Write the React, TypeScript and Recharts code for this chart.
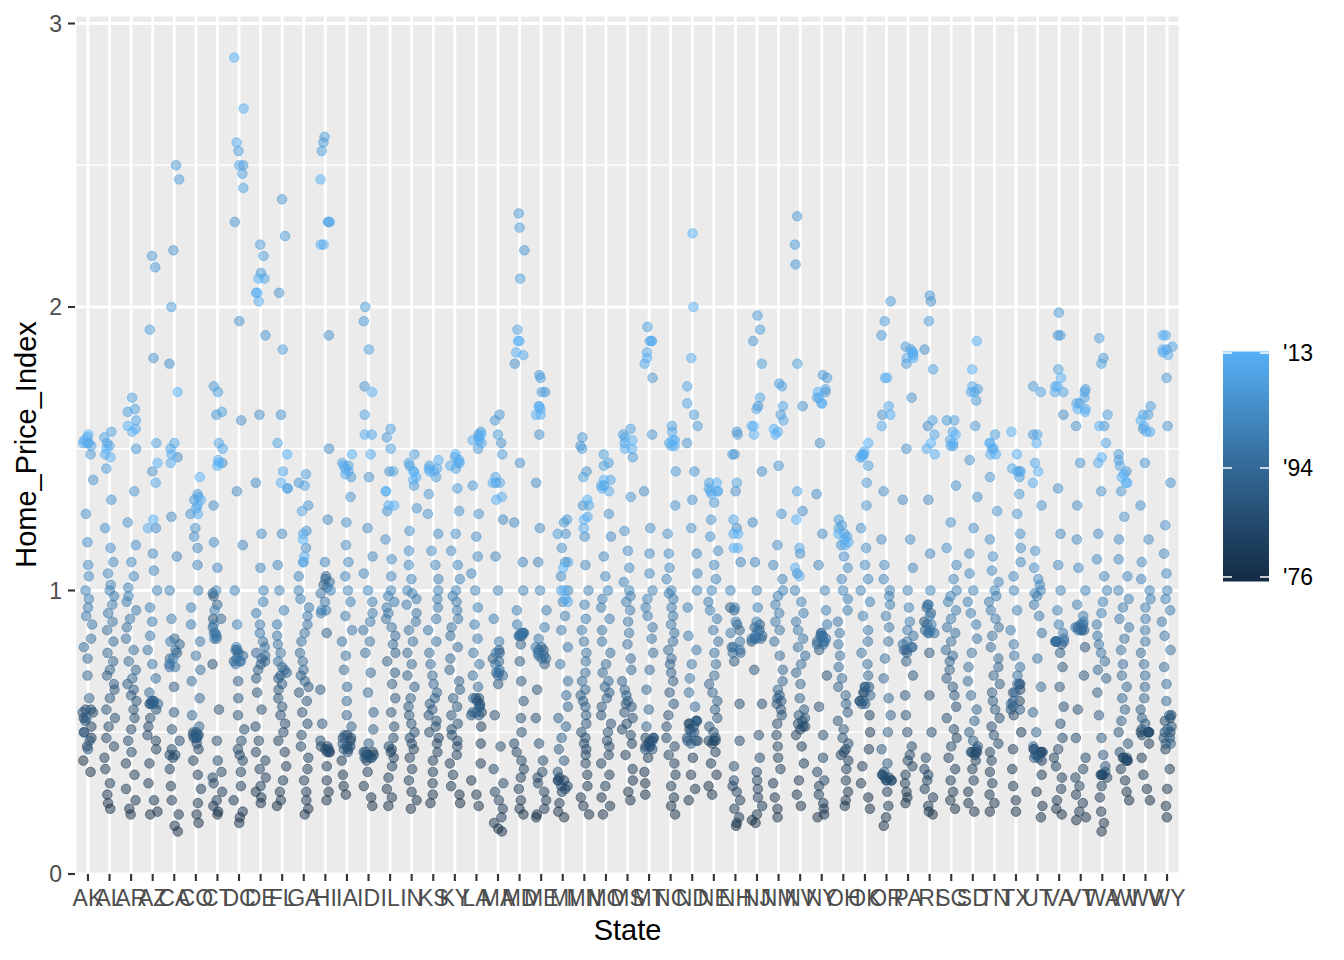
import React from 'react';
import { ScatterChart, Scatter, XAxis, YAxis, CartesianGrid } from 'recharts';

// Home price index per state, one value per year 1975..2013
const FIRST_YEAR = 1975;

const STATES = ['AK', 'AL', 'AR', 'AZ', 'CA', 'CO', 'CT', 'DC', 'DE', 'FL', 'GA', 'HI', 'IA', 'ID', 'IL', 'IN', 'KS', 'KY', 'LA', 'MA', 'MD', 'ME', 'MI', 'MN', 'MO', 'MS', 'MT', 'NC', 'ND', 'NE', 'NH', 'NJ', 'NM', 'NV', 'NY', 'OH', 'OK', 'OR', 'PA', 'RI', 'SC', 'SD', 'TN', 'TX', 'UT', 'VA', 'VT', 'WA', 'WI', 'WV', 'WY'];

const hpiAK = [0.36, 0.40, 0.45, 0.48, 0.50, 0.52, 0.55, 0.57, 0.58, 0.58, 0.57, 0.54, 0.47, 0.44, 0.50, 0.55, 0.62, 0.70, 0.76, 0.80, 0.83, 0.88, 0.91, 0.94, 0.97, 1.00, 1.05, 1.09, 1.17, 1.27, 1.39, 1.48, 1.52, 1.54, 1.52, 1.51, 1.52, 1.53, 1.55];
const hpiAL = [0.23, 0.25, 0.28, 0.32, 0.37, 0.41, 0.45, 0.48, 0.52, 0.55, 0.58, 0.62, 0.65, 0.67, 0.70, 0.72, 0.75, 0.78, 0.82, 0.86, 0.89, 0.92, 0.95, 0.98, 1.00, 1.02, 1.06, 1.10, 1.15, 1.22, 1.32, 1.43, 1.52, 1.56, 1.54, 1.51, 1.48, 1.47, 1.50];
const hpiAR = [0.21, 0.23, 0.26, 0.30, 0.35, 0.39, 0.43, 0.47, 0.51, 0.55, 0.58, 0.61, 0.63, 0.65, 0.67, 0.69, 0.72, 0.75, 0.79, 0.83, 0.87, 0.90, 0.93, 0.96, 0.98, 1.01, 1.05, 1.10, 1.16, 1.24, 1.35, 1.50, 1.63, 1.68, 1.64, 1.60, 1.57, 1.56, 1.58];
const hpiAZ = [0.21, 0.22, 0.26, 0.32, 0.39, 0.44, 0.47, 0.49, 0.52, 0.55, 0.58, 0.60, 0.61, 0.61, 0.60, 0.60, 0.60, 0.61, 0.64, 0.69, 0.74, 0.79, 0.84, 0.89, 0.94, 1.00, 1.07, 1.13, 1.22, 1.42, 1.82, 2.14, 2.18, 1.92, 1.52, 1.38, 1.22, 1.25, 1.45];
const hpiCA = [0.15, 0.17, 0.21, 0.26, 0.31, 0.37, 0.41, 0.42, 0.42, 0.44, 0.47, 0.51, 0.57, 0.66, 0.78, 0.83, 0.81, 0.79, 0.76, 0.74, 0.73, 0.73, 0.76, 0.82, 0.90, 1.00, 1.12, 1.26, 1.47, 1.80, 2.20, 2.50, 2.45, 2.00, 1.52, 1.50, 1.45, 1.48, 1.70];
const hpiCO = [0.18, 0.21, 0.25, 0.30, 0.35, 0.40, 0.44, 0.46, 0.48, 0.49, 0.50, 0.50, 0.49, 0.48, 0.48, 0.49, 0.52, 0.56, 0.62, 0.68, 0.72, 0.77, 0.82, 0.88, 0.94, 1.00, 1.09, 1.15, 1.19, 1.22, 1.27, 1.32, 1.34, 1.33, 1.30, 1.29, 1.27, 1.32, 1.40];
const hpiCT = [0.21, 0.22, 0.24, 0.26, 0.29, 0.32, 0.34, 0.36, 0.40, 0.47, 0.58, 0.74, 0.90, 0.98, 0.99, 0.95, 0.90, 0.87, 0.85, 0.84, 0.83, 0.83, 0.85, 0.88, 0.93, 1.00, 1.08, 1.17, 1.30, 1.45, 1.62, 1.72, 1.70, 1.63, 1.52, 1.50, 1.46, 1.44, 1.45];
const hpiDC = [0.18, 0.20, 0.22, 0.26, 0.31, 0.36, 0.40, 0.42, 0.44, 0.47, 0.51, 0.56, 0.62, 0.68, 0.75, 0.79, 0.79, 0.78, 0.77, 0.76, 0.75, 0.74, 0.75, 0.80, 0.88, 1.00, 1.16, 1.35, 1.60, 1.95, 2.30, 2.50, 2.55, 2.47, 2.42, 2.50, 2.58, 2.70, 2.88];
const hpiDE = [0.25, 0.27, 0.29, 0.31, 0.34, 0.37, 0.40, 0.43, 0.47, 0.52, 0.58, 0.64, 0.69, 0.72, 0.74, 0.75, 0.76, 0.77, 0.78, 0.80, 0.82, 0.85, 0.88, 0.92, 0.96, 1.00, 1.08, 1.20, 1.38, 1.62, 1.90, 2.12, 2.22, 2.18, 2.10, 2.05, 2.02, 2.05, 2.10];
const hpiFL = [0.24, 0.26, 0.29, 0.33, 0.38, 0.43, 0.47, 0.50, 0.53, 0.56, 0.59, 0.62, 0.65, 0.67, 0.69, 0.70, 0.71, 0.72, 0.73, 0.75, 0.78, 0.81, 0.84, 0.88, 0.93, 1.00, 1.09, 1.20, 1.36, 1.62, 2.05, 2.38, 2.25, 1.85, 1.52, 1.42, 1.36, 1.38, 1.48];
const hpiGA = [0.21, 0.23, 0.26, 0.29, 0.33, 0.37, 0.41, 0.45, 0.49, 0.53, 0.57, 0.61, 0.64, 0.66, 0.68, 0.70, 0.72, 0.75, 0.78, 0.82, 0.85, 0.88, 0.91, 0.94, 0.97, 1.00, 1.05, 1.10, 1.15, 1.21, 1.30, 1.38, 1.41, 1.37, 1.28, 1.20, 1.12, 1.10, 1.18];
const hpiHI = [0.26, 0.29, 0.33, 0.38, 0.43, 0.45, 0.45, 0.44, 0.43, 0.43, 0.44, 0.47, 0.53, 0.65, 0.85, 1.02, 1.05, 1.04, 1.03, 1.01, 0.99, 0.96, 0.93, 0.92, 0.93, 1.00, 1.10, 1.25, 1.50, 1.90, 2.30, 2.58, 2.60, 2.55, 2.30, 2.22, 2.22, 2.30, 2.45];
const hpiIA = [0.28, 0.31, 0.35, 0.40, 0.45, 0.48, 0.49, 0.48, 0.47, 0.45, 0.44, 0.43, 0.44, 0.46, 0.49, 0.52, 0.56, 0.61, 0.66, 0.72, 0.77, 0.82, 0.86, 0.91, 0.96, 1.00, 1.05, 1.10, 1.16, 1.24, 1.33, 1.40, 1.44, 1.45, 1.43, 1.42, 1.41, 1.44, 1.48];
const hpiID = [0.24, 0.27, 0.31, 0.36, 0.40, 0.42, 0.43, 0.43, 0.42, 0.42, 0.41, 0.41, 0.41, 0.43, 0.46, 0.51, 0.57, 0.64, 0.71, 0.78, 0.82, 0.86, 0.89, 0.92, 0.96, 1.00, 1.06, 1.12, 1.22, 1.40, 1.72, 1.95, 2.00, 1.85, 1.62, 1.55, 1.48, 1.55, 1.70];
const hpiIL = [0.24, 0.27, 0.30, 0.34, 0.38, 0.41, 0.43, 0.44, 0.45, 0.48, 0.52, 0.57, 0.62, 0.67, 0.71, 0.75, 0.78, 0.81, 0.84, 0.87, 0.90, 0.92, 0.94, 0.96, 0.98, 1.00, 1.05, 1.11, 1.18, 1.28, 1.42, 1.54, 1.57, 1.50, 1.42, 1.35, 1.30, 1.30, 1.35];
const hpiIN = [0.23, 0.26, 0.29, 0.33, 0.37, 0.41, 0.44, 0.46, 0.48, 0.50, 0.53, 0.56, 0.59, 0.62, 0.66, 0.70, 0.74, 0.78, 0.82, 0.86, 0.89, 0.92, 0.95, 0.97, 0.99, 1.00, 1.04, 1.09, 1.14, 1.21, 1.29, 1.37, 1.44, 1.48, 1.45, 1.42, 1.40, 1.39, 1.42];
const hpiKS = [0.25, 0.28, 0.32, 0.36, 0.40, 0.43, 0.46, 0.48, 0.50, 0.52, 0.54, 0.56, 0.58, 0.60, 0.62, 0.64, 0.67, 0.70, 0.74, 0.78, 0.82, 0.86, 0.90, 0.94, 0.97, 1.00, 1.04, 1.09, 1.14, 1.20, 1.27, 1.34, 1.40, 1.44, 1.43, 1.42, 1.42, 1.43, 1.46];
const hpiKY = [0.25, 0.28, 0.31, 0.35, 0.39, 0.42, 0.45, 0.47, 0.49, 0.51, 0.53, 0.56, 0.59, 0.62, 0.65, 0.68, 0.72, 0.76, 0.80, 0.84, 0.87, 0.90, 0.93, 0.96, 0.98, 1.00, 1.04, 1.09, 1.14, 1.20, 1.28, 1.36, 1.43, 1.47, 1.46, 1.45, 1.44, 1.45, 1.48];
const hpiLA = [0.24, 0.28, 0.33, 0.39, 0.46, 0.52, 0.57, 0.60, 0.62, 0.62, 0.61, 0.59, 0.57, 0.56, 0.56, 0.57, 0.59, 0.62, 0.66, 0.70, 0.74, 0.78, 0.83, 0.88, 0.94, 1.00, 1.06, 1.12, 1.19, 1.27, 1.37, 1.50, 1.55, 1.56, 1.54, 1.53, 1.52, 1.53, 1.55];
const hpiMA = [0.15, 0.16, 0.18, 0.20, 0.23, 0.26, 0.29, 0.32, 0.37, 0.45, 0.56, 0.67, 0.76, 0.79, 0.78, 0.75, 0.71, 0.70, 0.70, 0.71, 0.72, 0.74, 0.78, 0.82, 0.90, 1.00, 1.12, 1.25, 1.38, 1.52, 1.62, 1.60, 1.55, 1.48, 1.40, 1.38, 1.33, 1.32, 1.38];
const hpiMD = [0.21, 0.23, 0.26, 0.30, 0.34, 0.37, 0.40, 0.43, 0.46, 0.50, 0.55, 0.61, 0.68, 0.75, 0.81, 0.84, 0.85, 0.85, 0.85, 0.84, 0.84, 0.84, 0.85, 0.88, 0.93, 1.00, 1.10, 1.24, 1.45, 1.80, 2.20, 2.33, 2.28, 2.10, 1.92, 1.88, 1.83, 1.84, 1.88];
const hpiME = [0.20, 0.21, 0.23, 0.26, 0.29, 0.32, 0.34, 0.36, 0.40, 0.46, 0.55, 0.65, 0.74, 0.79, 0.80, 0.79, 0.77, 0.76, 0.76, 0.77, 0.78, 0.80, 0.83, 0.87, 0.93, 1.00, 1.10, 1.22, 1.38, 1.55, 1.70, 1.76, 1.75, 1.70, 1.65, 1.64, 1.62, 1.62, 1.65];
const hpiMI = [0.20, 0.22, 0.25, 0.29, 0.33, 0.34, 0.33, 0.31, 0.30, 0.31, 0.33, 0.36, 0.40, 0.44, 0.48, 0.52, 0.55, 0.59, 0.63, 0.68, 0.74, 0.80, 0.86, 0.91, 0.96, 1.00, 1.05, 1.10, 1.15, 1.20, 1.24, 1.25, 1.20, 1.10, 1.00, 0.97, 0.96, 1.00, 1.08];
const hpiMN = [0.21, 0.24, 0.27, 0.31, 0.35, 0.39, 0.42, 0.44, 0.46, 0.48, 0.50, 0.53, 0.56, 0.59, 0.61, 0.63, 0.65, 0.68, 0.71, 0.75, 0.78, 0.82, 0.86, 0.90, 0.95, 1.00, 1.09, 1.19, 1.30, 1.42, 1.51, 1.54, 1.50, 1.40, 1.30, 1.26, 1.22, 1.25, 1.32];
const hpiMO = [0.21, 0.24, 0.27, 0.31, 0.35, 0.39, 0.42, 0.45, 0.47, 0.50, 0.53, 0.56, 0.59, 0.62, 0.64, 0.66, 0.68, 0.71, 0.74, 0.78, 0.82, 0.86, 0.90, 0.94, 0.97, 1.00, 1.05, 1.12, 1.19, 1.27, 1.37, 1.45, 1.48, 1.44, 1.39, 1.37, 1.35, 1.36, 1.39];
const hpiMS = [0.26, 0.29, 0.33, 0.37, 0.42, 0.46, 0.49, 0.51, 0.53, 0.55, 0.57, 0.59, 0.60, 0.61, 0.63, 0.65, 0.68, 0.72, 0.76, 0.81, 0.85, 0.89, 0.93, 0.96, 0.98, 1.00, 1.03, 1.08, 1.14, 1.21, 1.33, 1.47, 1.55, 1.57, 1.54, 1.52, 1.50, 1.50, 1.53];
const hpiMT = [0.28, 0.32, 0.36, 0.41, 0.45, 0.47, 0.48, 0.48, 0.47, 0.46, 0.45, 0.44, 0.44, 0.45, 0.48, 0.52, 0.58, 0.65, 0.72, 0.78, 0.83, 0.87, 0.91, 0.94, 0.97, 1.00, 1.06, 1.13, 1.22, 1.35, 1.55, 1.75, 1.88, 1.93, 1.88, 1.84, 1.80, 1.82, 1.88];
const hpiNC = [0.21, 0.24, 0.27, 0.31, 0.35, 0.39, 0.42, 0.45, 0.48, 0.52, 0.56, 0.60, 0.64, 0.68, 0.71, 0.74, 0.76, 0.79, 0.82, 0.85, 0.88, 0.91, 0.94, 0.97, 0.99, 1.00, 1.04, 1.08, 1.13, 1.20, 1.30, 1.42, 1.52, 1.58, 1.56, 1.53, 1.51, 1.51, 1.53];
const hpiND = [0.26, 0.30, 0.35, 0.41, 0.47, 0.51, 0.53, 0.54, 0.54, 0.53, 0.52, 0.50, 0.48, 0.47, 0.46, 0.47, 0.50, 0.54, 0.59, 0.64, 0.69, 0.74, 0.79, 0.84, 0.94, 1.00, 1.06, 1.13, 1.22, 1.32, 1.42, 1.52, 1.58, 1.62, 1.66, 1.72, 1.82, 2.00, 2.26];
const hpiNE = [0.28, 0.31, 0.35, 0.39, 0.43, 0.46, 0.47, 0.47, 0.47, 0.48, 0.50, 0.52, 0.55, 0.58, 0.61, 0.64, 0.67, 0.70, 0.74, 0.78, 0.82, 0.86, 0.90, 0.93, 0.96, 1.00, 1.04, 1.09, 1.14, 1.19, 1.25, 1.31, 1.35, 1.38, 1.36, 1.35, 1.34, 1.35, 1.38];
const hpiNH = [0.17, 0.18, 0.20, 0.23, 0.26, 0.29, 0.31, 0.33, 0.38, 0.47, 0.60, 0.75, 0.88, 0.94, 0.93, 0.86, 0.80, 0.78, 0.78, 0.79, 0.80, 0.82, 0.85, 0.89, 0.94, 1.00, 1.10, 1.22, 1.35, 1.48, 1.56, 1.55, 1.48, 1.38, 1.25, 1.20, 1.15, 1.15, 1.20];
const hpiNJ = [0.18, 0.19, 0.21, 0.24, 0.27, 0.30, 0.33, 0.36, 0.41, 0.49, 0.60, 0.72, 0.82, 0.87, 0.88, 0.86, 0.84, 0.83, 0.83, 0.83, 0.83, 0.84, 0.86, 0.89, 0.94, 1.00, 1.10, 1.24, 1.42, 1.65, 1.88, 1.97, 1.92, 1.80, 1.68, 1.64, 1.58, 1.55, 1.58];
const hpiNM = [0.20, 0.23, 0.27, 0.32, 0.37, 0.41, 0.45, 0.49, 0.53, 0.56, 0.58, 0.60, 0.61, 0.62, 0.63, 0.65, 0.68, 0.72, 0.77, 0.82, 0.86, 0.89, 0.92, 0.95, 0.98, 1.00, 1.04, 1.09, 1.16, 1.27, 1.44, 1.62, 1.73, 1.72, 1.65, 1.60, 1.56, 1.55, 1.57];
const hpiNV = [0.24, 0.28, 0.33, 0.39, 0.45, 0.49, 0.51, 0.52, 0.52, 0.53, 0.54, 0.55, 0.56, 0.58, 0.62, 0.67, 0.71, 0.74, 0.77, 0.80, 0.83, 0.86, 0.89, 0.92, 0.96, 1.00, 1.06, 1.13, 1.28, 1.65, 2.15, 2.32, 2.22, 1.80, 1.35, 1.15, 1.05, 1.08, 1.25];
const hpiNY = [0.20, 0.21, 0.23, 0.25, 0.28, 0.31, 0.33, 0.36, 0.41, 0.49, 0.59, 0.70, 0.79, 0.84, 0.85, 0.84, 0.82, 0.81, 0.81, 0.82, 0.82, 0.83, 0.85, 0.88, 0.93, 1.00, 1.09, 1.20, 1.34, 1.52, 1.70, 1.76, 1.75, 1.71, 1.68, 1.68, 1.66, 1.66, 1.70];
const hpiOH = [0.24, 0.26, 0.29, 0.33, 0.37, 0.40, 0.42, 0.43, 0.44, 0.46, 0.48, 0.51, 0.54, 0.57, 0.60, 0.63, 0.66, 0.69, 0.73, 0.77, 0.81, 0.85, 0.89, 0.93, 0.97, 1.00, 1.04, 1.08, 1.12, 1.16, 1.20, 1.23, 1.25, 1.22, 1.19, 1.18, 1.16, 1.17, 1.20];
const hpiOK = [0.23, 0.27, 0.32, 0.38, 0.44, 0.50, 0.56, 0.61, 0.64, 0.66, 0.66, 0.64, 0.61, 0.60, 0.60, 0.61, 0.63, 0.66, 0.70, 0.74, 0.78, 0.82, 0.86, 0.91, 0.96, 1.00, 1.04, 1.09, 1.15, 1.22, 1.30, 1.38, 1.44, 1.48, 1.48, 1.47, 1.47, 1.49, 1.52];
const hpiOR = [0.17, 0.20, 0.24, 0.29, 0.33, 0.35, 0.35, 0.34, 0.33, 0.33, 0.33, 0.34, 0.36, 0.39, 0.44, 0.50, 0.56, 0.62, 0.69, 0.76, 0.82, 0.87, 0.91, 0.95, 0.98, 1.00, 1.04, 1.09, 1.18, 1.35, 1.62, 1.90, 2.02, 1.95, 1.75, 1.65, 1.58, 1.62, 1.75];
const hpiPA = [0.25, 0.27, 0.29, 0.32, 0.35, 0.38, 0.40, 0.42, 0.45, 0.50, 0.56, 0.63, 0.70, 0.75, 0.78, 0.79, 0.79, 0.80, 0.80, 0.81, 0.82, 0.84, 0.86, 0.89, 0.94, 1.00, 1.08, 1.18, 1.32, 1.50, 1.68, 1.80, 1.85, 1.86, 1.84, 1.83, 1.82, 1.82, 1.84];
const hpiRI = [0.21, 0.22, 0.24, 0.27, 0.30, 0.33, 0.35, 0.37, 0.41, 0.50, 0.63, 0.78, 0.89, 0.94, 0.95, 0.92, 0.88, 0.86, 0.85, 0.85, 0.85, 0.86, 0.88, 0.91, 0.95, 1.00, 1.13, 1.32, 1.58, 1.85, 2.02, 2.04, 1.95, 1.78, 1.60, 1.55, 1.50, 1.48, 1.52];
const hpiSC = [0.23, 0.26, 0.29, 0.33, 0.37, 0.41, 0.45, 0.48, 0.51, 0.55, 0.59, 0.63, 0.66, 0.69, 0.72, 0.75, 0.77, 0.79, 0.82, 0.85, 0.87, 0.90, 0.93, 0.96, 0.98, 1.00, 1.04, 1.09, 1.15, 1.24, 1.37, 1.51, 1.60, 1.60, 1.56, 1.53, 1.51, 1.52, 1.55];
const hpiSD = [0.22, 0.25, 0.29, 0.33, 0.37, 0.40, 0.42, 0.43, 0.43, 0.43, 0.43, 0.44, 0.45, 0.47, 0.50, 0.54, 0.58, 0.63, 0.68, 0.73, 0.78, 0.83, 0.88, 0.92, 0.96, 1.00, 1.06, 1.13, 1.22, 1.33, 1.46, 1.58, 1.67, 1.71, 1.70, 1.70, 1.72, 1.78, 1.88];
const hpiTN = [0.22, 0.25, 0.28, 0.32, 0.36, 0.40, 0.43, 0.46, 0.49, 0.52, 0.55, 0.58, 0.61, 0.64, 0.67, 0.70, 0.73, 0.76, 0.80, 0.84, 0.87, 0.90, 0.93, 0.96, 0.98, 1.00, 1.03, 1.07, 1.12, 1.18, 1.28, 1.40, 1.50, 1.55, 1.52, 1.50, 1.48, 1.48, 1.52];
const hpiTX = [0.22, 0.26, 0.31, 0.37, 0.44, 0.50, 0.56, 0.61, 0.65, 0.67, 0.67, 0.64, 0.60, 0.58, 0.58, 0.59, 0.61, 0.64, 0.67, 0.70, 0.73, 0.77, 0.81, 0.86, 0.93, 1.00, 1.05, 1.10, 1.15, 1.20, 1.27, 1.34, 1.40, 1.42, 1.42, 1.42, 1.43, 1.48, 1.56];
const hpiUT = [0.20, 0.24, 0.29, 0.35, 0.40, 0.43, 0.44, 0.44, 0.43, 0.43, 0.43, 0.42, 0.41, 0.41, 0.42, 0.45, 0.50, 0.57, 0.66, 0.76, 0.85, 0.91, 0.95, 0.98, 0.99, 1.00, 1.02, 1.04, 1.08, 1.14, 1.30, 1.55, 1.72, 1.70, 1.55, 1.45, 1.38, 1.42, 1.52];
const hpiVA = [0.21, 0.23, 0.26, 0.30, 0.34, 0.38, 0.41, 0.44, 0.48, 0.53, 0.59, 0.66, 0.73, 0.78, 0.81, 0.82, 0.82, 0.82, 0.82, 0.82, 0.82, 0.83, 0.85, 0.88, 0.93, 1.00, 1.09, 1.20, 1.36, 1.62, 1.90, 1.98, 1.90, 1.78, 1.70, 1.72, 1.70, 1.72, 1.75];
const hpiVT = [0.19, 0.20, 0.22, 0.25, 0.28, 0.31, 0.34, 0.37, 0.41, 0.48, 0.58, 0.70, 0.80, 0.86, 0.88, 0.88, 0.87, 0.86, 0.86, 0.86, 0.86, 0.87, 0.89, 0.91, 0.95, 1.00, 1.08, 1.18, 1.30, 1.45, 1.58, 1.66, 1.70, 1.71, 1.68, 1.66, 1.64, 1.63, 1.64];
const hpiWA = [0.15, 0.18, 0.22, 0.27, 0.31, 0.34, 0.35, 0.35, 0.35, 0.35, 0.36, 0.38, 0.42, 0.48, 0.56, 0.64, 0.69, 0.72, 0.75, 0.78, 0.81, 0.84, 0.88, 0.92, 0.96, 1.00, 1.05, 1.11, 1.20, 1.35, 1.58, 1.82, 1.89, 1.80, 1.62, 1.52, 1.45, 1.47, 1.58];
const hpiWI = [0.26, 0.29, 0.33, 0.37, 0.40, 0.41, 0.41, 0.40, 0.40, 0.41, 0.43, 0.46, 0.50, 0.54, 0.58, 0.62, 0.66, 0.70, 0.74, 0.79, 0.83, 0.87, 0.90, 0.94, 0.97, 1.00, 1.05, 1.11, 1.18, 1.26, 1.35, 1.42, 1.46, 1.48, 1.44, 1.41, 1.38, 1.38, 1.40];
const hpiWV = [0.26, 0.30, 0.35, 0.41, 0.46, 0.49, 0.50, 0.50, 0.50, 0.50, 0.50, 0.51, 0.53, 0.55, 0.58, 0.62, 0.66, 0.70, 0.74, 0.78, 0.82, 0.86, 0.90, 0.94, 0.97, 1.00, 1.04, 1.10, 1.18, 1.30, 1.45, 1.57, 1.62, 1.65, 1.62, 1.58, 1.56, 1.56, 1.60];
const hpiWY = [0.20, 0.24, 0.30, 0.37, 0.44, 0.50, 0.55, 0.56, 0.54, 0.52, 0.50, 0.48, 0.46, 0.46, 0.48, 0.51, 0.56, 0.61, 0.67, 0.73, 0.79, 0.84, 0.89, 0.93, 0.97, 1.00, 1.06, 1.13, 1.23, 1.38, 1.58, 1.75, 1.85, 1.90, 1.86, 1.84, 1.83, 1.85, 1.90];

const SERIES = [hpiAK, hpiAL, hpiAR, hpiAZ, hpiCA, hpiCO, hpiCT, hpiDC, hpiDE, hpiFL, hpiGA, hpiHI, hpiIA, hpiID, hpiIL, hpiIN, hpiKS, hpiKY, hpiLA, hpiMA, hpiMD, hpiME, hpiMI, hpiMN, hpiMO, hpiMS, hpiMT, hpiNC, hpiND, hpiNE, hpiNH, hpiNJ, hpiNM, hpiNV, hpiNY, hpiOH, hpiOK, hpiOR, hpiPA, hpiRI, hpiSC, hpiSD, hpiTN, hpiTX, hpiUT, hpiVA, hpiVT, hpiWA, hpiWI, hpiWV, hpiWY];

const Y_TICKS = [0, 1, 2, 3];
const Y_MINOR = [0.5, 1.5, 2.5];
const LEGEND_BREAKS = [1976, 1994, 2013];
const LEGEND_LABELS = ["'76", "'94", "'13"];

// colour scale limits (date range of the data)
const DATE_MIN = 1975.25;
const DATE_MAX = 2013.25;
const LOW = '#132B43';
const HIGH = '#56B1F7';

const W = 1344;
const H = 960;
const Y_MAX = 3.03;
const FONT = '"Liberation Sans", Arial, Helvetica, sans-serif';

// --- Lab interpolation, like ggplot's seq_gradient_pal ---
const hexRgb = (h: string) => [1, 3, 5].map((i) => parseInt(h.slice(i, i + 2), 16) / 255);
const toLin = (c: number) => (c <= 0.04045 ? c / 12.92 : Math.pow((c + 0.055) / 1.055, 2.4));
const fromLin = (c: number) => (c <= 0.0031308 ? 12.92 * c : 1.055 * Math.pow(c, 1 / 2.4) - 0.055);
const WHITE = [0.95047, 1, 1.08883];

function toLab(hex: string) {
  const [r, g, b] = hexRgb(hex).map(toLin);
  const xyz = [
    0.4124 * r + 0.3576 * g + 0.1805 * b,
    0.2126 * r + 0.7152 * g + 0.0722 * b,
    0.0193 * r + 0.1192 * g + 0.9505 * b,
  ].map((v, i) => v / WHITE[i]);
  const f = xyz.map((t) => (t > 0.008856 ? Math.cbrt(t) : 7.787 * t + 16 / 116));
  return [116 * f[1] - 16, 500 * (f[0] - f[1]), 200 * (f[1] - f[2])];
}

function fromLab([L, a, b]: number[]) {
  const fy = (L + 16) / 116;
  const f = [fy + a / 500, fy, fy - b / 200];
  const [X, Y, Z] = f.map((v, i) => (v * v * v > 0.008856 ? v * v * v : (v - 16 / 116) / 7.787) * WHITE[i]);
  const rgb = [
    3.2406 * X - 1.5372 * Y - 0.4986 * Z,
    -0.9689 * X + 1.8758 * Y + 0.0415 * Z,
    0.0557 * X - 0.204 * Y + 1.057 * Z,
  ].map((c) => Math.round(Math.min(1, Math.max(0, fromLin(c))) * 255));
  return `rgb(${rgb[0]},${rgb[1]},${rgb[2]})`;
}

const LAB_LOW = toLab(LOW);
const LAB_HIGH = toLab(HIGH);
const colourAt = (date: number) => {
  const t = Math.min(1, Math.max(0, (date - DATE_MIN) / (DATE_MAX - DATE_MIN)));
  return fromLab(LAB_LOW.map((v, i) => v + (LAB_HIGH[i] - v) * t));
};

// deterministic jitter in [-1, 1] so the picture is stable between runs
const jitter = (i: number, k: number) => {
  const s = Math.sin((i + 1) * 12.9898 + (k + 1) * 78.233) * 43758.5453;
  return (s - Math.floor(s)) * 2 - 1;
};

const points = STATES.flatMap((state, i) =>
  SERIES[i].map((value, k) => ({
    state,
    x: i + 1 + 0.25 * jitter(i, k),
    y: value,
    date: FIRST_YEAR + k + 0.5,
  }))
);

const xTicks = STATES.map((_, i) => i + 1);

const Dot = (props: any) => {
  const { cx, cy, payload } = props;
  if (cx == null || cy == null) return null;
  const c = colourAt(payload.date);
  return <circle cx={cx} cy={cy} r={4.8} fill={c} fillOpacity={0.5} stroke={c} strokeOpacity={0.5} strokeWidth={1} />;
};

// colour bar geometry
const BAR = { x: 1223, top: 351.5, bottom: 581.5, w: 46 };
const barY = (d: number) => BAR.bottom - ((d - DATE_MIN) / (DATE_MAX - DATE_MIN)) * (BAR.bottom - BAR.top);
const GRAD_STOPS = Array.from({ length: 11 }, (_, i) => i / 10);

export default function App() {
  return (
    <div style={{ position: 'relative', width: W, height: H, background: '#fff', fontFamily: FONT }}>
      <style>{'body{margin:0}'}</style>
      <ScatterChart width={W} height={H} margin={{ top: 15, right: 164, bottom: 0, left: 0 }}>
        <CartesianGrid
          fill="#EBEBEB"
          stroke="#FFFFFF"
          strokeWidth={1.4}
          vertical={false}
          horizontalCoordinatesGenerator={({ offset }: any) =>
            Y_MINOR.map((v) => offset.top + offset.height * (1 - v / Y_MAX))
          }
        />
        <CartesianGrid stroke="#FFFFFF" strokeWidth={2.8} />
        <XAxis
          type="number"
          dataKey="x"
          domain={[0.4, 51.6]}
          ticks={xTicks}
          interval={0}
          tickFormatter={(v: number) => STATES[v - 1] ?? ''}
          height={86}
          axisLine={false}
          tickLine={{ stroke: '#333333', strokeWidth: 2.1 }}
          tickSize={7}
          tickMargin={9}
          tick={{ fill: '#4D4D4D', fontSize: 23, fontFamily: FONT }}
          allowDataOverflow
        />
        <YAxis
          type="number"
          dataKey="y"
          domain={[0, Y_MAX]}
          ticks={Y_TICKS}
          width={75}
          axisLine={false}
          tickLine={{ stroke: '#333333', strokeWidth: 2.1 }}
          tickSize={7}
          tickMargin={6}
          tick={{ fill: '#4D4D4D', fontSize: 23, fontFamily: FONT }}
          allowDataOverflow
        />
        <Scatter data={points} shape={<Dot />} isAnimationActive={false} />
      </ScatterChart>

      <svg width={W} height={H} style={{ position: 'absolute', left: 0, top: 0, pointerEvents: 'none' }}>
        <defs>
          <linearGradient id="hpiBar" x1="0" y1="1" x2="0" y2="0">
            {GRAD_STOPS.map((t) => (
              <stop key={t} offset={t} stopColor={colourAt(DATE_MIN + t * (DATE_MAX - DATE_MIN))} />
            ))}
          </linearGradient>
        </defs>
        <rect x={BAR.x} y={BAR.top} width={BAR.w} height={BAR.bottom - BAR.top} fill="url(#hpiBar)" />
        {LEGEND_BREAKS.map((d, i) => (
          <g key={d}>
            <line x1={BAR.x} x2={BAR.x + 9} y1={barY(d)} y2={barY(d)} stroke="#FFFFFF" strokeWidth={1.5} />
            <line x1={BAR.x + BAR.w - 9} x2={BAR.x + BAR.w} y1={barY(d)} y2={barY(d)} stroke="#FFFFFF" strokeWidth={1.5} />
            <text x={1283} y={barY(d)} dy="0.36em" fontSize={23} fill="#000" fontFamily={FONT}>
              {LEGEND_LABELS[i]}
            </text>
          </g>
        ))}
        <text x={627.5} y={940} textAnchor="middle" fontSize={29} fill="#000" fontFamily={FONT}>
          State
        </text>
        <text x={36} y={444.5} textAnchor="middle" fontSize={29} fill="#000" fontFamily={FONT} transform="rotate(-90 36 444.5)">
          Home_Price_Index
        </text>
      </svg>
    </div>
  );
}
